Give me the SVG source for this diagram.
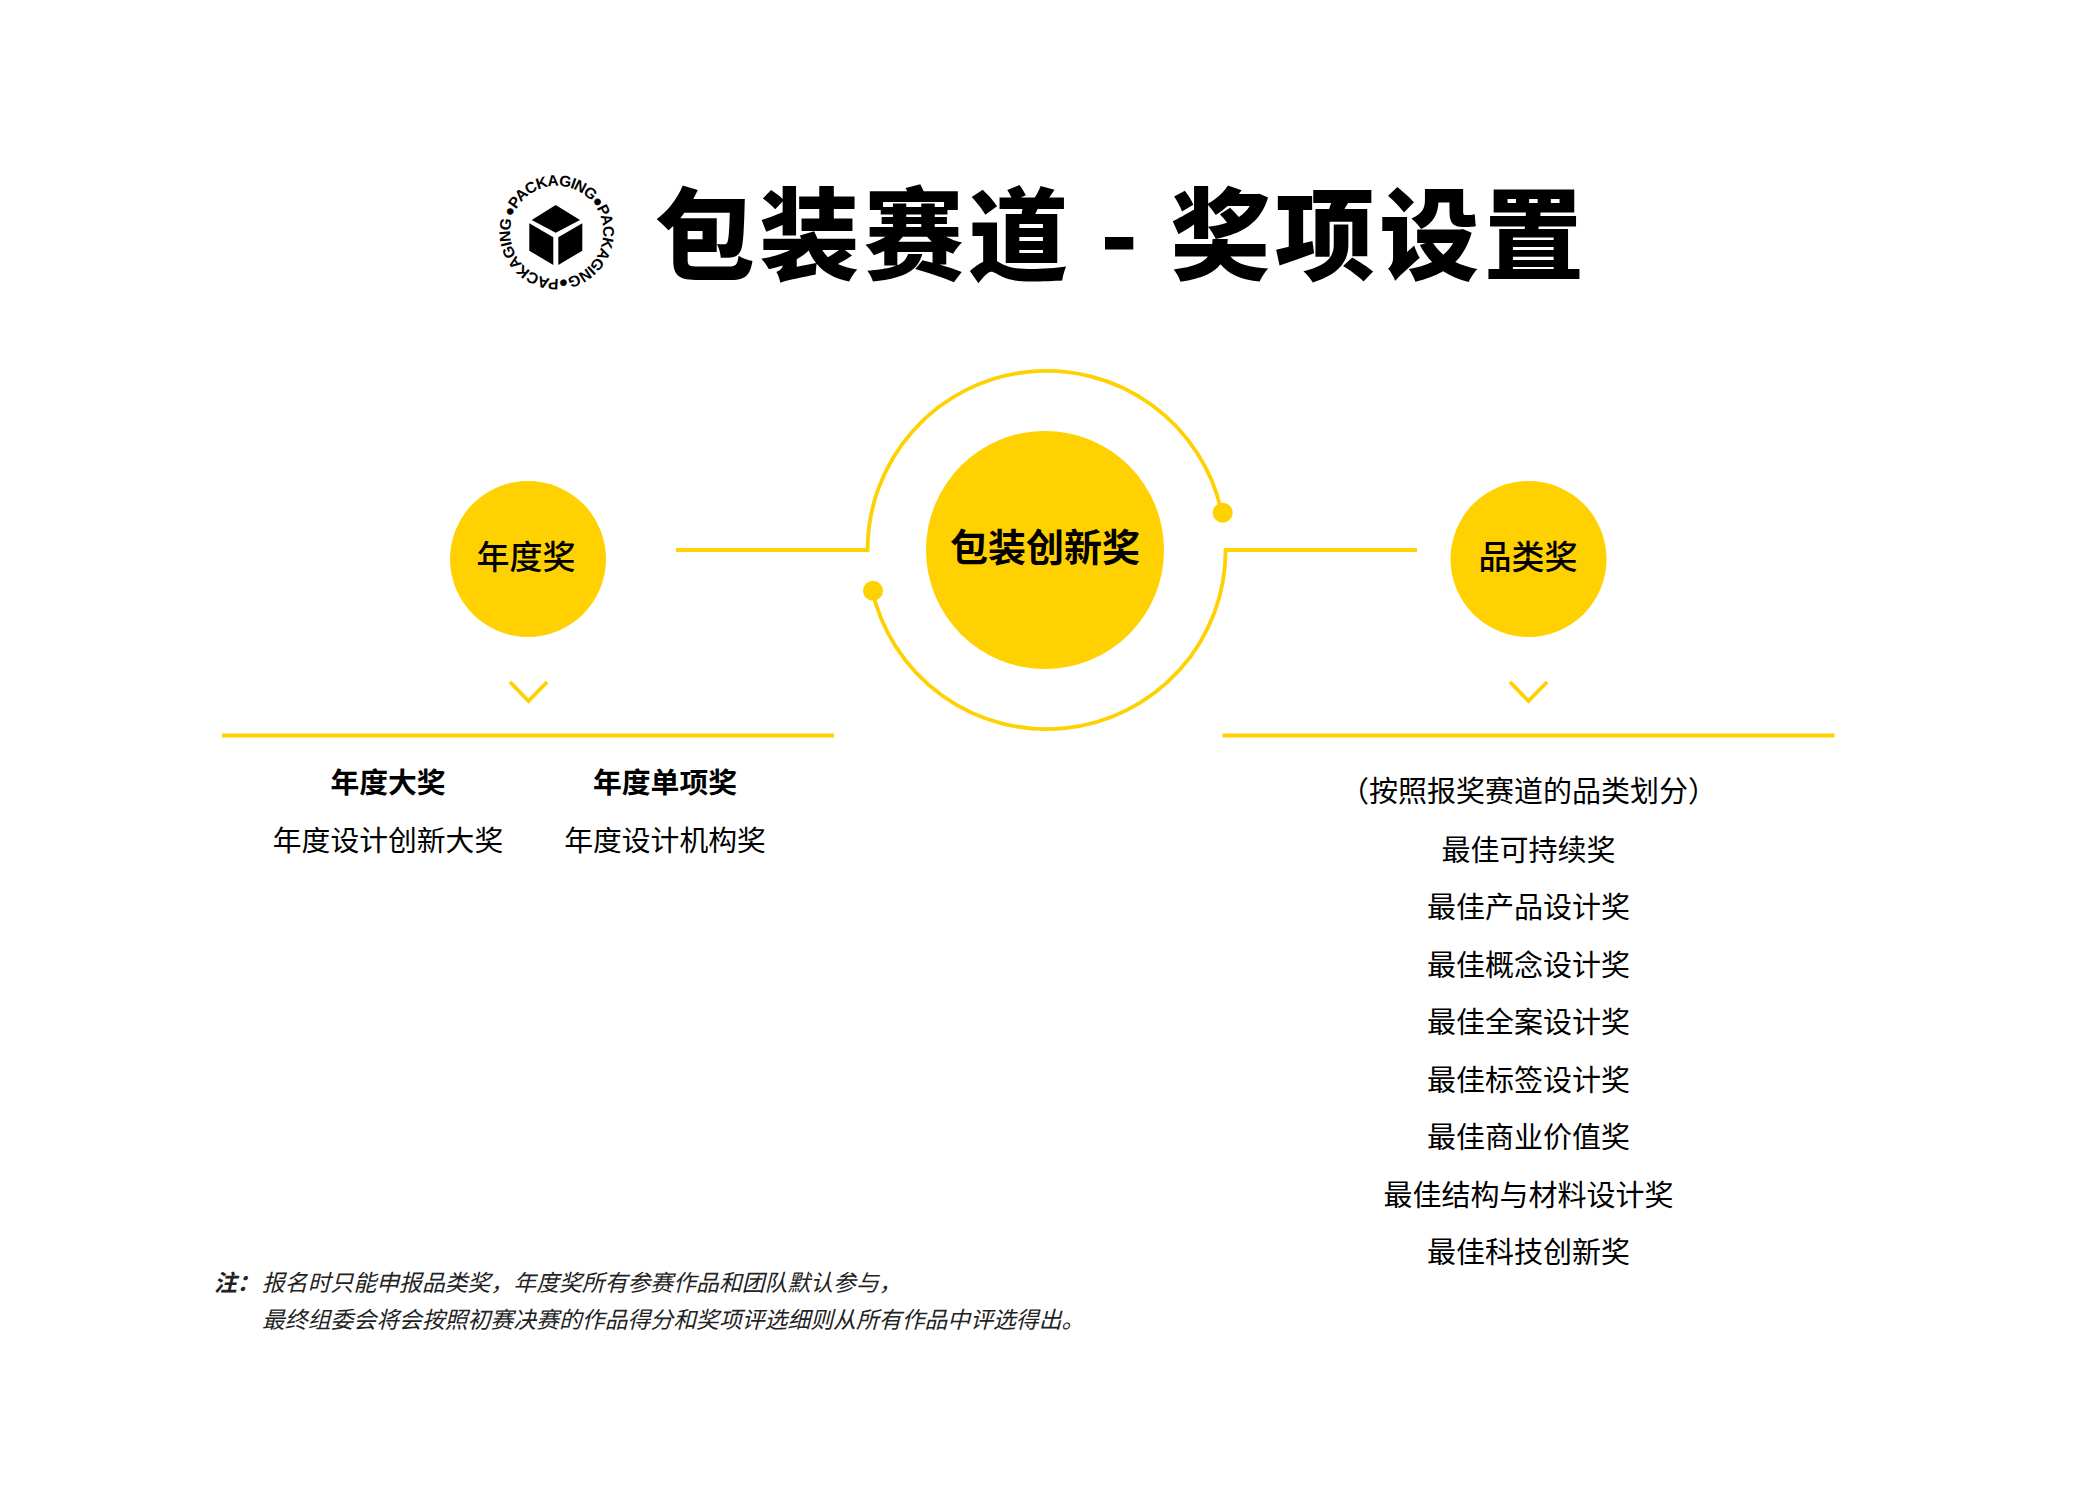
<svg xmlns="http://www.w3.org/2000/svg" width="2083" height="1496" viewBox="0 0 2083 1496">
<style>
text{font-family:"Noto Sans CJK SC","Noto Sans",sans-serif;fill:#000}
.m{text-anchor:middle}
.item{font-size:29px;text-anchor:middle}
.left{font-size:28.8px}
.bold{font-weight:700}
.node{fill:#ffd100}
.line{fill:none;stroke:#ffd100;stroke-width:3.8}
.note{font-size:22.85px;font-style:italic;fill:#222}
</style>
<defs>
<path id="ring" d="M512.6 217.5A46.5 46.5 0 1 1 596.4 256.5A46.5 46.5 0 0 1 512.6 217.5"/>
</defs>
<rect width="2083" height="1496" fill="#fff"/>
<g id="logo">
<path d="M555.7 205L580 220L555.7 232.7L531.7 220Z"/>
<path d="M529.3 223.3L553.3 237.3V265L529.3 250.7Z"/>
<path d="M558.3 237.3L582.3 223.3V250.7L558.3 265Z"/>
<text style="font-family:'Liberation Sans',sans-serif;font-size:15.5px;font-weight:700" textLength="290"><textPath href="#ring">●PACKAGING●PACKAGING●PACKAGING</textPath></text>
</g>
<g id="title"><text class="m" x="1121.5" y="272" font-size="100" font-weight="900" letter-spacing="4.5">包装赛道 - 奖项设置</text></g>
<g id="connectors">
<path class="line" d="M676 550H867.6A179 179 0 0 1 1221.7 512.7"/>
<path class="line" d="M1417 550H1225.6A179 179 0 0 1 871.5 587.3"/>
<circle class="node" cx="1222.7" cy="512.7" r="10"/>
<circle class="node" cx="873" cy="590.7" r="10"/>
<path class="line" d="M510 682L528.5 701L547 682"/>
<path class="line" d="M1510 682L1528.5 701L1547 682"/>
<path class="line" d="M222 735.5H834"/>
<path class="line" d="M1222.5 735.5H1834.5"/>
</g>
<g id="center-node"><circle class="node" cx="1045" cy="550" r="119"/><text class="m bold" x="1045" y="561" font-size="38">包装创新奖</text></g>
<g id="annual-node"><circle class="node" cx="528" cy="559" r="78"/><text class="m" x="526" y="569" font-size="33" font-weight="500">年度奖</text></g>
<g id="category-node"><circle class="node" cx="1528.5" cy="559" r="78"/><text class="m" x="1528" y="569" font-size="33" font-weight="500">品类奖</text></g>
<g id="annual-list">
<text class="item bold left" x="388" y="793">年度大奖</text>
<text class="item bold left" x="665" y="793">年度单项奖</text>
<text class="item left" x="388" y="850.5">年度设计创新大奖</text>
<text class="item left" x="665" y="850.5">年度设计机构奖</text>
</g>
<g id="category-list">
<text class="item" x="1528.5" y="802">（按照报奖赛道的品类划分）</text>
<text class="item" x="1528.5" y="860.5">最佳可持续奖</text>
<text class="item" x="1528.5" y="918">最佳产品设计奖</text>
<text class="item" x="1528.5" y="975.5">最佳概念设计奖</text>
<text class="item" x="1528.5" y="1033">最佳全案设计奖</text>
<text class="item" x="1528.5" y="1090.5">最佳标签设计奖</text>
<text class="item" x="1528.5" y="1148">最佳商业价值奖</text>
<text class="item" x="1528.5" y="1205.5">最佳结构与材料设计奖</text>
<text class="item" x="1528.5" y="1263">最佳科技创新奖</text>
</g>
<g id="note">
<text class="note" x="214" y="1291" font-weight="700">注：</text>
<text class="note" x="262" y="1291">报名时只能申报品类奖，年度奖所有参赛作品和团队默认参与，</text>
<text class="note" x="262" y="1328">最终组委会将会按照初赛决赛的作品得分和奖项评选细则从所有作品中评选得出。</text>
</g>
</svg>
